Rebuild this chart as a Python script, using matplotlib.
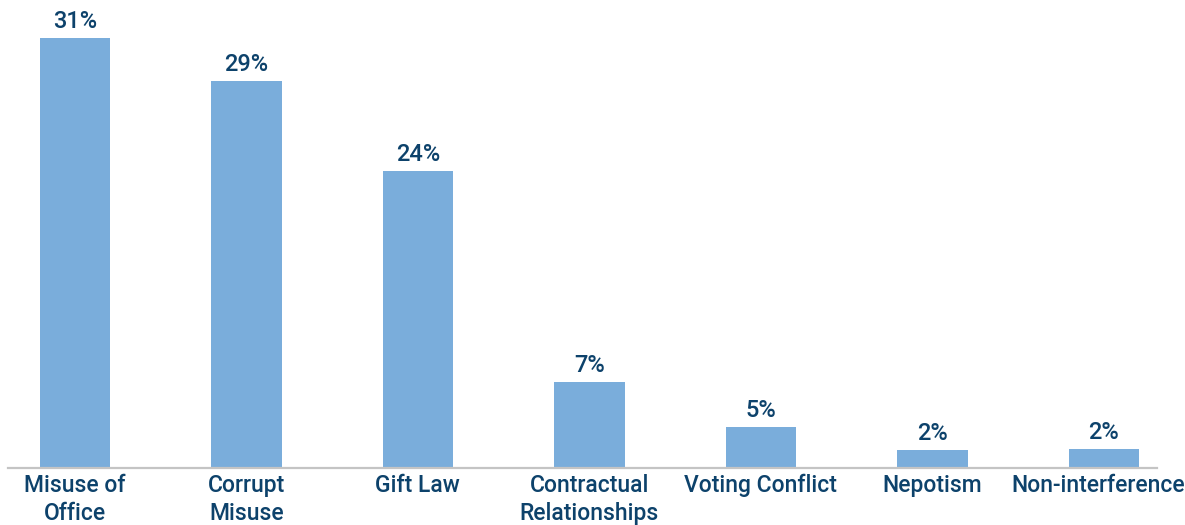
import matplotlib.pyplot as plt
import matplotlib.transforms as mtransforms

categories = ["Misuse of\nOffice", "Corrupt\nMisuse", "Gift Law", "Contractual\nRelationships",
              "Voting Conflict", "Nepotism", "Non-interference"]
# bar heights as drawn in the reference (labels are the published percentages)
heights = [31.0, 27.9, 21.4, 6.2, 2.96, 1.30, 1.37]
labels = ["31%", "29%", "24%", "7%", "5%", "2%", "2%"]

navy = '#0d426b'
bar_color = '#7aaddb'
plt.rcParams['font.family'] = ['Roboto', 'DejaVu Sans']

fig = plt.figure(figsize=(11.85, 5.25), dpi=100)
ax = fig.add_axes([8 / 1185, 57 / 525, 1149 / 1185, 468 / 525])

x = range(len(categories))
bars = ax.bar(x, heights, width=0.41, color=bar_color)
for b, lab in zip(bars, labels):
    ax.text(b.get_x() + b.get_width() / 2, b.get_height() + 0.35, lab,
            ha='center', va='bottom', fontsize=17, color=navy, fontweight='medium')

ax.set_xlim(-0.39, 6.31)
ax.set_ylim(0, 33.74)
ax.set_xticks(list(x))
ax.set_xticklabels(categories, fontsize=16.5, color=navy, linespacing=1.32,
                   fontweight='medium')
ax.tick_params(axis='x', length=0, pad=4)
# last label sits a touch left of its bar, as in the original
last = ax.get_xticklabels()[-1]
last.set_transform(last.get_transform() + mtransforms.ScaledTranslation(-6 / 100, 0, fig.dpi_scale_trans))
ax.set_yticks([])
for s in ['top', 'right', 'left']:
    ax.spines[s].set_visible(False)
ax.spines['bottom'].set_color('#c4c4c4')
ax.spines['bottom'].set_linewidth(1.6)

fig.savefig('out.png', dpi=100)
